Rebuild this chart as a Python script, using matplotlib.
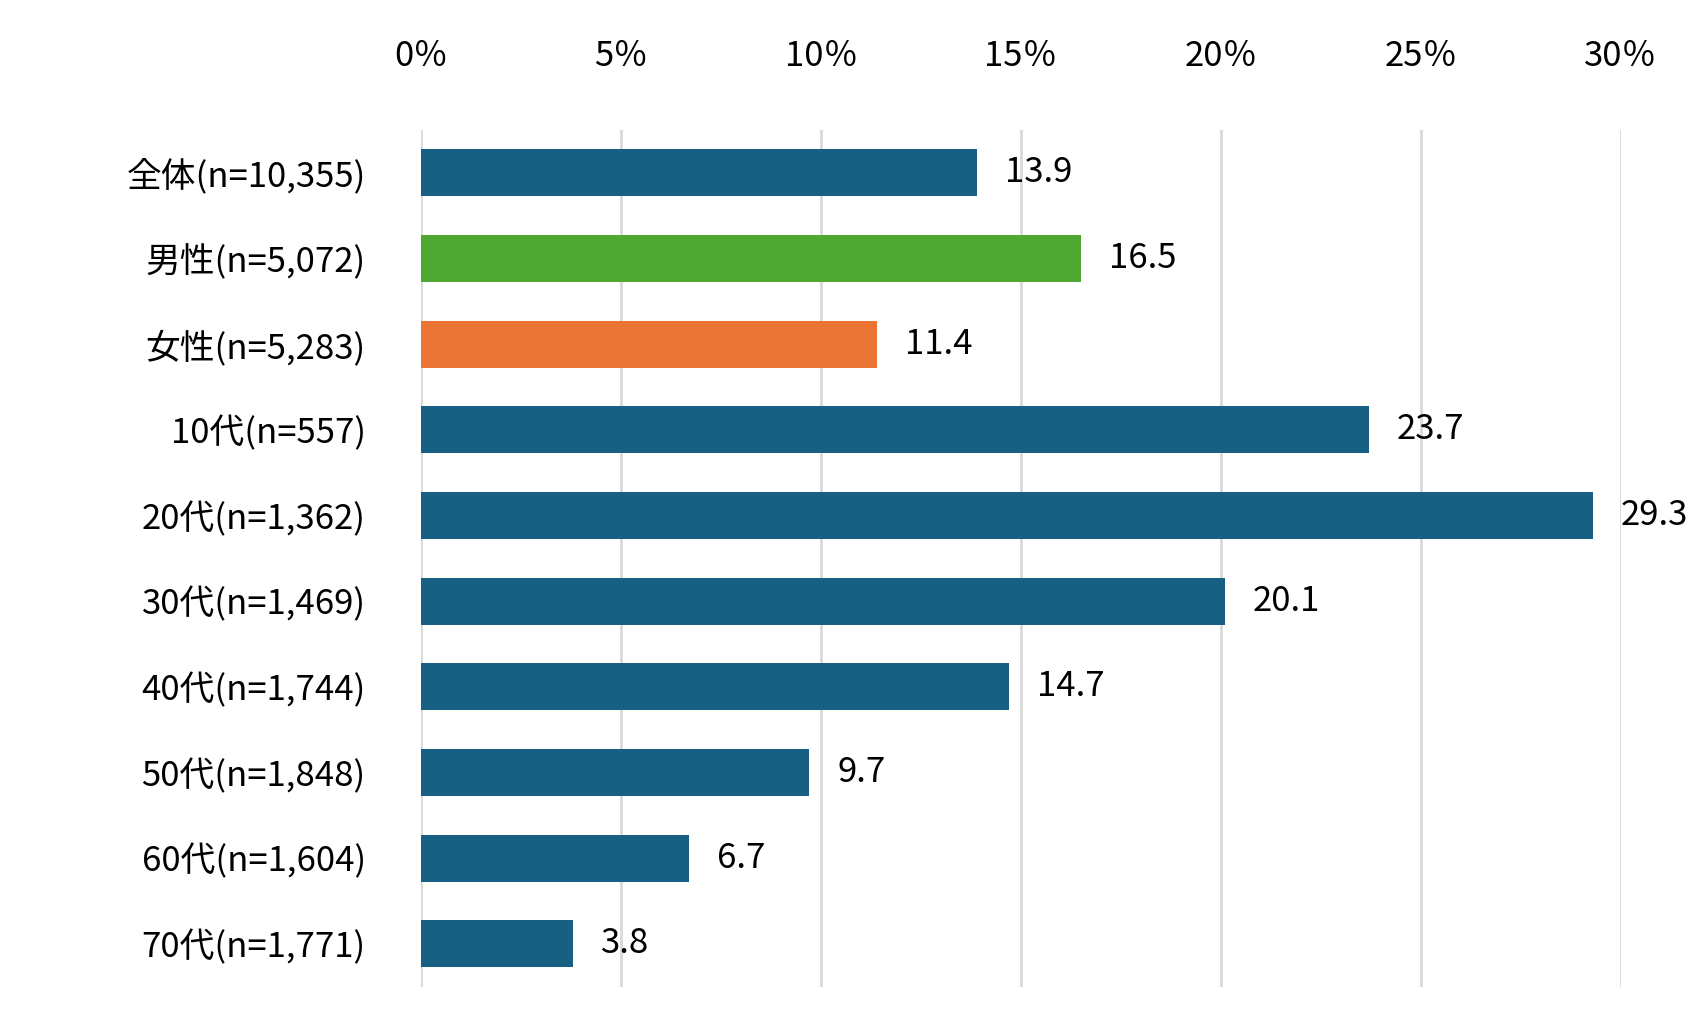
import matplotlib
matplotlib.use('Agg')
import matplotlib.pyplot as plt

plt.rcParams['font.family'] = ['Noto Sans CJK JP', 'DejaVu Sans']

categories = ['全体(n=10,355)', '男性(n=5,072)', '女性(n=5,283)', '10代(n=557)',
              '20代(n=1,362)', '30代(n=1,469)', '40代(n=1,744)', '50代(n=1,848)',
              '60代(n=1,604)', '70代(n=1,771)']
values = [13.9, 16.5, 11.4, 23.7, 29.3, 20.1, 14.7, 9.7, 6.7, 3.8]
colors = ['#176083', '#4fa832', '#ea7434'] + ['#176083'] * 7
xticks = [0, 5, 10, 15, 20, 25, 30]

fig = plt.figure(figsize=(17.06, 10.31), dpi=100)
ax = fig.add_axes([0.247, 0.043, 0.703, 0.831])

y = range(len(categories))
ax.barh(y, values, height=0.55, color=colors, zorder=3)
for i, v in enumerate(values):
    ax.text(v + 0.7, i, f'{v:.1f}', va='center', ha='left', fontsize=25)

ax.set_xlim(0, 30)
ax.set_ylim(9.5, -0.5)
ax.set_yticks(list(y))
ax.set_yticklabels(categories, fontsize=25)
ax.set_xticks(xticks)
ax.set_xticklabels([f'{t}％' for t in xticks], fontsize=25)
ax.xaxis.tick_top()
ax.tick_params(length=0, pad=40)
ax.tick_params(axis='y', pad=40)
ax.grid(axis='x', color='#d9d9d9', linewidth=2, zorder=0)
for s in ax.spines.values():
    s.set_visible(False)

fig.savefig('out.png')
